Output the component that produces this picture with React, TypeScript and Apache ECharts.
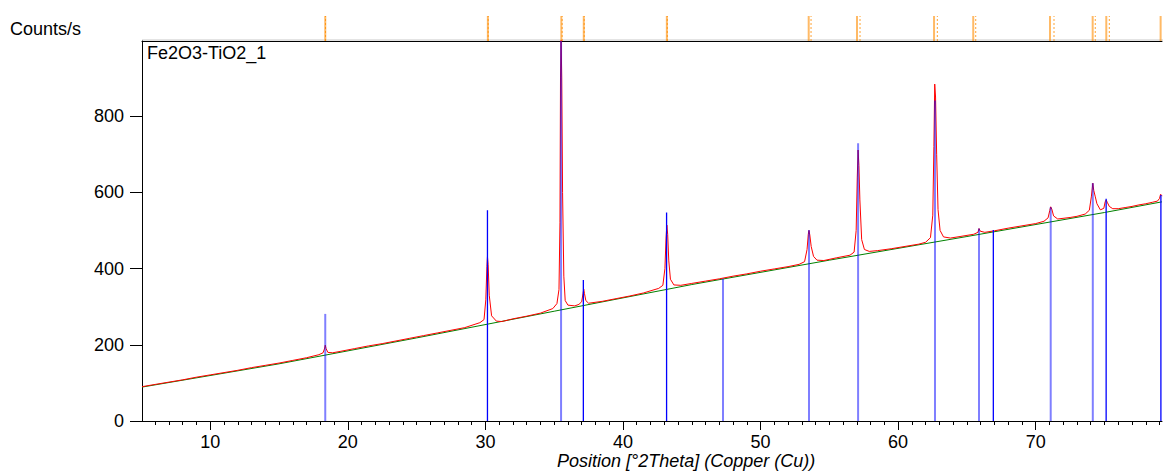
import React, { useEffect, useRef } from "react";
import * as echarts from "echarts";

// ---- axis ranges / ticks ----
const X_MIN = 5.04;
const X_MAX = 79.18;
const Y_MAX = 997;
const xMajorTicks = [10, 20, 30, 40, 50, 60, 70];
const xMinorTicks = [
  6, 7, 8, 9, 11, 12, 13, 14, 15, 16, 17, 18, 19, 21, 22, 23, 24, 25, 26, 27, 28, 29,
  31, 32, 33, 34, 35, 36, 37, 38, 39, 41, 42, 43, 44, 45, 46, 47, 48, 49,
  51, 52, 53, 54, 55, 56, 57, 58, 59, 61, 62, 63, 64, 65, 66, 67, 68, 69,
  71, 72, 73, 74, 75, 76, 77, 78, 79,
];
const yTicks = [0, 200, 400, 600, 800];

// ---- measured pattern (2theta, counts/s) ----
const observed: [number, number][] = [
  [5.04, 90], [6, 96], [7, 102], [8, 108], [9, 115], [10, 121], [11, 127], [12, 133], [13, 140],
  [14, 146], [15, 152], [16, 159], [17, 166], [17.9, 174], [18.2, 179], [18.3, 189], [18.36, 199],
  [18.42, 190], [18.55, 180], [18.9, 179], [19.5, 183], [20.5, 190], [21.5, 197], [22.5, 203],
  [23.5, 210], [24.5, 217], [25.5, 224], [26.5, 231], [27.5, 238], [28.5, 245], [29.6, 258],
  [29.9, 266], [30.03, 318], [30.11, 405], [30.15, 431], [30.2, 410], [30.28, 330], [30.45, 276],
  [30.8, 262], [31.2, 261], [32, 268], [33, 275], [34, 283], [34.9, 295], [35.2, 308], [35.35, 345],
  [35.42, 520], [35.46, 900], [35.5, 1010], [35.55, 900], [35.61, 600], [35.7, 380], [35.8, 316],
  [36, 304], [36.5, 302], [36.8, 306], [37.0, 313], [37.1, 335], [37.15, 346], [37.2, 335],
  [37.3, 316], [37.5, 309], [38.5, 314], [39.5, 321], [40.5, 328], [41.5, 336], [42.6, 348],
  [42.9, 356], [43.05, 400], [43.13, 480], [43.19, 514], [43.25, 490], [43.33, 420], [43.45, 372],
  [43.7, 357], [44.2, 356], [45, 361], [46, 367], [47, 373], [48, 380], [49, 386], [50, 393],
  [51, 399], [52, 405], [52.8, 411], [53.2, 418], [53.38, 450], [53.47, 490], [53.52, 500],
  [53.58, 488], [53.68, 458], [53.85, 432], [54.1, 422], [54.6, 421], [55.5, 428], [56.5, 435],
  [56.8, 443], [56.95, 500], [57.03, 640], [57.09, 711], [57.15, 670], [57.22, 580], [57.35, 476],
  [57.55, 450], [57.9, 445], [58.5, 447], [59.5, 452], [60.5, 458], [61.5, 464], [62.0, 469],
  [62.35, 481], [62.52, 540], [62.6, 720], [62.66, 884], [62.72, 850], [62.8, 700], [62.9, 555],
  [63.05, 500], [63.3, 483], [63.8, 480], [64.5, 484], [65.5, 490], [65.8, 495], [65.88, 505],
  [65.97, 498], [66.3, 495], [67, 499], [68, 506], [69, 512], [70, 518], [70.6, 524], [70.9, 533],
  [71.02, 552], [71.09, 562], [71.17, 556], [71.3, 538], [71.6, 530], [72.5, 534], [73, 537],
  [73.6, 543], [73.9, 553], [74.05, 590], [74.15, 624], [74.22, 605], [74.32, 590], [74.45, 570],
  [74.7, 554], [74.95, 558], [75.05, 575], [75.12, 580], [75.2, 574], [75.35, 563], [75.6, 557],
  [76, 557], [76.5, 560], [77, 563], [77.5, 567], [78, 570], [78.5, 574], [78.85, 577], [79, 584],
  [79.08, 595], [79.15, 592], [79.18, 590],
];

// ---- fitted background ----
const background: [number, number][] = [
  [5.04, 89], [15, 150], [25, 218], [35, 288], [45, 358], [55, 422], [65, 484], [75, 547], [79.18, 575],
];

// ---- reference pattern sticks ----
const sticksDark: [number, number][] = [
  [30.15, 553], [37.12, 370], [43.17, 547], [66.92, 501], [75.12, 583], [79.1, 593],
];
const sticksLight: [number, number][] = [
  [18.36, 281], [35.5, 997], [47.27, 373], [53.52, 501], [57.09, 729], [62.68, 841],
  [65.88, 505], [71.09, 561], [74.15, 624],
];

// ---- peak list markers (top strip) ----
const peakMarksSolid = [18.36, 30.18, 35.52, 37.15, 43.19, 53.5, 57.01, 62.61, 65.46, 71.04, 74.14, 75.13, 79.08];
const peakMarksDotted = [18.38, 30.2, 35.58, 37.18, 43.22, 53.67, 57.23, 62.85, 65.64, 71.33, 74.33, 75.35];

const FONT = "'Liberation Sans', Arial, sans-serif";
const FS = 18;

function stickRenderer(color: string, width: number, opacity: number) {
  return (_params: any, api: any) => {
    const x = api.value(0);
    const h = api.value(1);
    const p0 = api.coord([x, 0]);
    const p1 = api.coord([x, h]);
    return {
      type: "line",
      shape: { x1: p0[0], y1: p0[1], x2: p1[0], y2: p1[1] },
      style: { stroke: color, lineWidth: width, opacity },
    };
  };
}

function markRenderer(color: string, width: number, opacity: number, dash?: number[]) {
  return (_params: any, api: any) => {
    const x = api.value(0);
    const p0 = api.coord([x, 0]);
    const p1 = api.coord([x, 1]);
    return {
      type: "line",
      shape: { x1: p0[0], y1: p0[1], x2: p1[0], y2: p1[1] },
      style: { stroke: color, lineWidth: width, opacity, lineDash: dash },
    };
  };
}

export default function App() {
  const ref = useRef<HTMLDivElement>(null);
  useEffect(() => {
    if (!ref.current) return;
    const chart = echarts.init(ref.current, undefined, { renderer: "svg" });
    const option: any = {
      animation: false,
      backgroundColor: "#fff",
      grid: [
        { left: 142, right: 1, top: 41, bottom: 52 },
        { left: 142, right: 1, top: 16, height: 25 },
      ],
      xAxis: [
        {
          gridIndex: 0, type: "value", min: X_MIN, max: X_MAX, position: "bottom",
          axisLine: { show: true, lineStyle: { color: "#000", width: 1 } },
          axisTick: { show: true, customValues: xMinorTicks, length: 4, lineStyle: { color: "#000" } },
          axisLabel: { show: true, customValues: xMajorTicks, color: "#000", fontSize: FS, fontFamily: FONT, margin: 12 },
          splitLine: { show: false },
        },
        {
          gridIndex: 0, type: "value", min: X_MIN, max: X_MAX, position: "bottom",
          axisLine: { show: false },
          axisTick: { show: true, customValues: xMajorTicks, length: 9, lineStyle: { color: "#000" } },
          axisLabel: { show: false },
          splitLine: { show: false },
        },
        {
          gridIndex: 0, type: "value", min: X_MIN, max: X_MAX, position: "top",
          axisLine: { show: true, lineStyle: { color: "#000", width: 1 } },
          axisTick: { show: false }, axisLabel: { show: false }, splitLine: { show: false },
        },
        {
          gridIndex: 1, type: "value", min: X_MIN, max: X_MAX, show: false,
        },
      ],
      yAxis: [
        {
          gridIndex: 0, type: "value", min: 0, max: Y_MAX,
          axisLine: { show: true, lineStyle: { color: "#000", width: 1 } },
          axisTick: { show: true, customValues: yTicks, length: 12, lineStyle: { color: "#000" } },
          axisLabel: { show: true, customValues: yTicks, color: "#000", fontSize: FS, fontFamily: FONT, margin: 18 },
          splitLine: { show: false },
        },
        { gridIndex: 1, type: "value", min: 0, max: 1, show: false },
      ],
      graphic: [
        { type: "line", shape: { x1: 142, y1: 40, x2: 1163, y2: 40 }, style: { stroke: "#c8c8c8", lineWidth: 1 } },
        { type: "text", x: 10, y: 29, style: { text: "Counts/s", font: `${FS}px ${FONT}`, fill: "#000", verticalAlign: "middle" } },
        { type: "text", x: 147, y: 53, style: { text: "Fe2O3-TiO2_1", font: `${FS}px ${FONT}`, fill: "#000", verticalAlign: "middle" } },
        { type: "text", x: 557, y: 461, style: { text: "Position [°2Theta] (Copper (Cu))", font: `italic ${FS}px ${FONT}`, fill: "#000", verticalAlign: "middle" } },
      ],
      series: [
        {
          name: "background", type: "line", xAxisIndex: 0, yAxisIndex: 0, data: background,
          showSymbol: false, symbol: "none", lineStyle: { color: "#008000", width: 1 }, z: 2,
        },
        {
          name: "observed", type: "line", xAxisIndex: 0, yAxisIndex: 0, data: observed,
          showSymbol: false, symbol: "none", clip: true, lineStyle: { color: "#ff0000", width: 1 }, z: 3,
        },
        {
          name: "ref light", type: "custom", xAxisIndex: 0, yAxisIndex: 0, data: sticksLight, clip: true,
          renderItem: stickRenderer("#0000ff", 2, 0.5), z: 4,
        },
        {
          name: "ref dark", type: "custom", xAxisIndex: 0, yAxisIndex: 0, data: sticksDark, clip: true,
          renderItem: stickRenderer("#0000ff", 1.3, 1), z: 5,
        },
        {
          name: "marks solid", type: "custom", xAxisIndex: 3, yAxisIndex: 1,
          data: peakMarksSolid.map((v) => [v, 1]),
          renderItem: markRenderer("#ff8c00", 2, 0.6), z: 2,
        },
        {
          name: "marks dotted", type: "custom", xAxisIndex: 3, yAxisIndex: 1,
          data: peakMarksDotted.map((v) => [v, 1]),
          renderItem: markRenderer("#ff8c00", 1, 0.8, [2, 2]), z: 3,
        },
      ],
    };
    chart.setOption(option);
    return () => chart.dispose();
  }, []);
  return (
    <div
      ref={ref}
      style={{ position: "fixed", left: 0, top: 0, width: 1163, height: 473, background: "#fff" }}
    />
  );
}
